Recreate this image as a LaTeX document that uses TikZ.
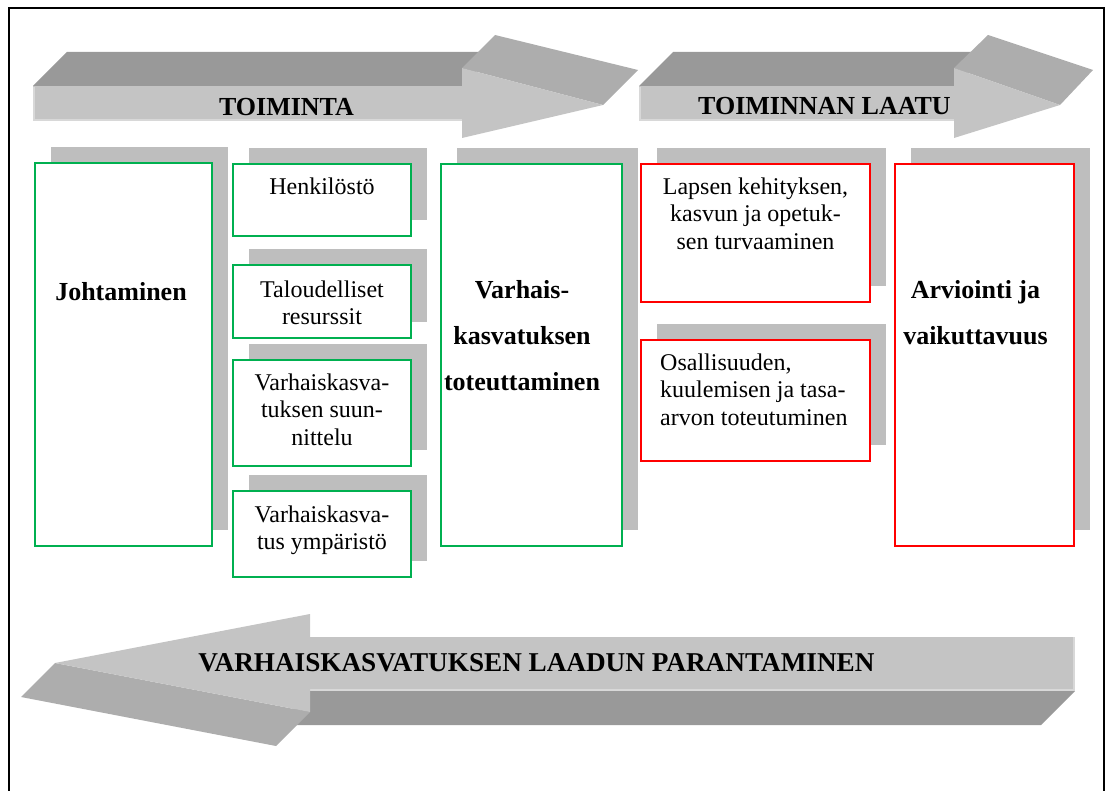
\documentclass[tikz,border=0pt]{standalone}
\usepackage{fontspec}
\setmainfont{Liberation Serif}
\usetikzlibrary{shadows,positioning}
\definecolor{boxgreen}{HTML}{00B050}
\definecolor{boxred}{HTML}{FF0000}
\definecolor{shadowgray}{HTML}{BEBEBE}
\definecolor{facelight}{HTML}{C4C4C4}
\definecolor{facedark}{HTML}{999999}
\definecolor{facehead}{HTML}{ADADAD}
\definecolor{faceedge}{HTML}{D8D8D8}
\begin{document}
\begin{tikzpicture}[x=1pt,y=-1pt,
    box/.style={draw,fill=white,line width=2pt,rectangle,inner sep=0pt,anchor=north west,
      drop shadow={shadow xshift=16pt,shadow yshift=16pt,fill=shadowgray,opacity=1}},
    greenbox/.style={box,draw=boxgreen},
    redbox/.style={box,draw=boxred},
    smalltext/.style={inner sep=0pt,anchor=north,align=center,font=\fontsize{24}{27.5}\selectfont},
    bigtext/.style={inner sep=0pt,anchor=north,align=center,font=\fontsize{26}{46}\selectfont\bfseries},
    title/.style={inner sep=0pt,anchor=base,font=\fontsize{26}{30}\selectfont\bfseries}]
    \useasboundingbox (0,0) rectangle (1106,791);
    \draw [line width=2pt] (9,792) -- (9,8) -- (1104,8) -- (1104,792);

    \fill [facedark] (33,86) -- (67,52) -- (495,52) -- (462,86) -- cycle;
    \fill [facelight] (33,86) rectangle (462,121);
    \draw [faceedge,line width=2pt] (34,87) -- (34,120) -- (462,120);
    \fill [facehead] (462,68) -- (495,35) -- (638,70) -- (603,105) -- cycle;
    \fill [facelight] (462,68) -- (603,105) -- (462,138) -- cycle;
    \node [title] (toim) at (286.5,116) {TOIMINTA};

    \fill [facedark] (639,86) -- (673,52) -- (988,52) -- (954,86) -- cycle;
    \fill [facelight] (639,86) rectangle (954,121);
    \draw [faceedge,line width=2pt] (640,87) -- (640,120) -- (954,120);
    \fill [facehead] (954,68) -- (988,35) -- (1093,70) -- (1060,105) -- cycle;
    \fill [facelight] (954,68) -- (1060,105) -- (954,138) -- cycle;
    \node [title] (laatu) at (824.5,115) {TOIMINNAN LAATU};

    \fill [facedark] (310,691) -- (1075,691) -- (1041,725) -- (276,725) -- cycle;
    \fill [facelight] (310,637) rectangle (1075,691);
    \draw [faceedge,line width=2pt] (310,690) -- (1074,690) -- (1074,637);
    \fill [facehead] (55,663) -- (310,712) -- (276,746) -- (21,697) -- cycle;
    \fill [facelight] (310,614) -- (55,663) -- (310,712) -- cycle;
    \node [title,font=\fontsize{27.2}{30}\selectfont\bfseries] (parant) at (536.5,671) {VARHAISKASVATUKSEN LAADUN PARANTAMINEN};

    \node [greenbox,minimum width=177pt,minimum height=383pt] (1) at (34,162) {};
    \node [greenbox,minimum width=178pt,minimum height=72pt] (2) at (232,163) {};
    \node [greenbox,minimum width=178pt,minimum height=73pt] (3) at (232,264) {};
    \node [greenbox,minimum width=178pt,minimum height=106pt] (4) at (232,359) {};
    \node [greenbox,minimum width=178pt,minimum height=86pt] (5) at (232,490) {};
    \node [greenbox,minimum width=181pt,minimum height=382pt] (6) at (440,163) {};
    \node [redbox,minimum width=229pt,minimum height=138pt] (7) at (640,163) {};
    \node [redbox,minimum width=229pt,minimum height=121pt] (8) at (640,339) {};
    \node [redbox,minimum width=179pt,minimum height=382pt] (9) at (894,163) {};

    \node [bigtext,below=105.8pt of 1.north,xshift=-2.5pt] (1t) {\strut Johtaminen};
    \node [smalltext,below=11.75pt of 2.north] (2t) {\strut Henkilöstö};
    \node [smalltext,below=13.75pt of 3.north] (3t) {\strut Taloudelliset\\resurssit};
    \node [smalltext,below=11.75pt of 4.north] (4t) {\strut Varhaiskasva-\\tuksen suun-\\nittelu};
    \node [smalltext,below=12.75pt of 5.north] (5t) {\strut Varhaiskasva-\\tus ympäristö};
    \node [bigtext,below=102.8pt of 6.north,xshift=-9.5pt] (6t) {\strut Varhais-\\kasvatuksen\\toteuttaminen};
    \node [smalltext,below=11.75pt of 7.north] (7t) {\strut Lapsen kehityksen,\\kasvun ja opetuk-\\sen turvaaminen};
    \node [smalltext,align=left,below right=11.75pt and 20pt of 8.north west] (8t) {\strut Osallisuuden,\\kuulemisen ja tasa-\\arvon toteutuminen};
    \node [bigtext,below=102.8pt of 9.north,xshift=-9pt] (9t) {\strut Arviointi ja\\vaikuttavuus};
\end{tikzpicture}
\end{document}
